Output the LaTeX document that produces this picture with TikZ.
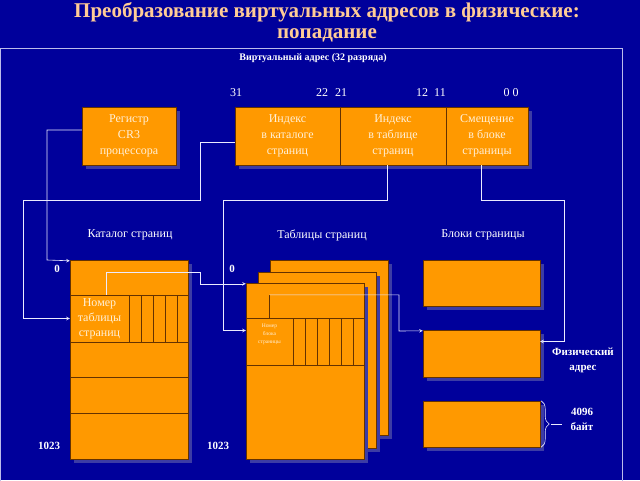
\documentclass[tikz,border=0pt]{standalone}
\usepackage{fontspec}
\setmainfont{Liberation Serif}
\usepackage{tikz}
\usetikzlibrary{shapes.geometric, arrows, shadows, decorations.pathreplacing, positioning}
\definecolor{bgblue}{RGB}{0,0,155}
\definecolor{boxorange}{RGB}{255,153,0}
\definecolor{boxline}{RGB}{100,50,0}
\definecolor{paletext}{RGB}{255,240,215}
\definecolor{titlecol}{RGB}{255,204,150}
\definecolor{shadowcol}{RGB}{60,60,165}
\definecolor{wirecol}{RGB}{235,235,255}
\tikzstyle{box} = [rectangle, draw=boxline, fill=boxorange, inner sep=0pt, text=paletext, align=center, font=\fontsize{12}{16}\selectfont, drop shadow={shadow xshift=4pt, shadow yshift=-4pt, fill=shadowcol, opacity=1}]
\tikzstyle{cell} = [rectangle, draw=boxline, inner sep=0pt, text=paletext, align=center, font=\fontsize{12}{15}\selectfont]
\tikzstyle{rowline} = [boxline]
\tikzstyle{arrow} = [wirecol, semithick, ->, >=stealth]
\tikzstyle{txt} = [text=white, inner sep=0pt, font=\fontsize{12}{14}\selectfont]
\tikzstyle{boldtxt} = [text=white, inner sep=0pt, align=center, font=\fontsize{11}{15}\selectfont\bfseries]

\begin{document}
\begin{tikzpicture}[x=1pt, y=-1pt]
\useasboundingbox (0,0) rectangle (640,480);
\fill[bgblue] (0,0) rectangle (640,480);
\node (title) [text=titlecol, align=center, font=\fontsize{21}{21}\selectfont\bfseries] at (327,22) {Преобразование виртуальных адресов в физические:\\попадание};
\draw[wirecol!80!bgblue, semithick] (0.5,48) rectangle (622,490);

% virtual address
\node (vaddr) [txt, font=\fontsize{10}{12}\selectfont\bfseries] at (313,58) {Виртуальный адрес (32 разряда)};
\node (b31) [txt] at (236,93) {31};
\node (b22) [txt] at (322,93) {22};
\node (b21) [txt] at (341,93) {21};
\node (b12) [txt] at (422,93) {12};
\node (b11) [txt] at (440,93) {11};
\node (b0) [txt] at (511,93) {0 0};

\node (cr3) [box, minimum width=94pt, minimum height=58pt] at (129,136) {Регистр\\CR3\\процессора};
\node (dir) [box, minimum width=105pt, minimum height=58pt] at (287.5,136) {Индекс\\в каталоге\\страниц};
\node (tbl) [box, minimum width=106pt, minimum height=58pt] at (393,136) {Индекс\\в таблице\\страниц};
\node (off) [box, minimum width=82pt, minimum height=58pt] at (487,136) {Смещение\\в блоке\\страницы};

% headings
\node (hcat) [txt] at (130,235) {Каталог страниц};
\node (htbl) [txt] at (322,235) {Таблицы страниц};
\node (hblk) [txt] at (483,235) {Блоки страницы};

% page directory
\node (cat) [box, minimum width=118pt, minimum height=199pt] at (129,359.5) {};
\foreach \y in {295,342,377,413}
  \draw[rowline] (70,\y) -- (188,\y);
\node (catEntry) [cell, minimum width=59pt, minimum height=47pt] at (99.5,318.5) {Номер\\таблицы\\страниц};
\foreach \x in {141,153,165,177}
  \draw[rowline] (\x,295) -- (\x,342);

% page tables
\node (back) [box, minimum width=118pt, minimum height=175pt] at (329,347.5) {};
\node (mid) [box, minimum width=118pt, minimum height=176pt] at (317,360) {};
\node (front) [box, minimum width=118pt, minimum height=176pt] at (305,371) {};
\foreach \y in {318,365}
  \draw[rowline] (246,\y) -- (364,\y);
\node (pgEntry) [cell, minimum width=47pt, minimum height=47pt] at (269.5,341.5) {};
\node (pgEntryTxt) [cell, draw=none, font=\fontsize{5.5}{8}\selectfont] at (269.5,334) {Номер\\блока\\страницы};
\foreach \x in {305,317,329,341,353}
  \draw[rowline] (\x,318) -- (\x,365);
\draw[rowline] (pgEntry.north) -- ++(0,-23);

% page blocks
\node (blk1) [box, minimum width=117pt, minimum height=46pt] at (481.5,283) {};
\node (blk2) [box, minimum width=117pt, minimum height=47pt] at (481.5,353.5) {};
\node (blk3) [box, minimum width=117pt, minimum height=46pt] at (481.5,424) {};

% index labels
\node (z1) [boldtxt] at (57,269) {0};
\node (z2) [boldtxt] at (232,269) {0};
\node (n1) [boldtxt] at (49,446) {1023};
\node (n2) [boldtxt] at (218,446) {1023};
\node (phys) [boldtxt] at (583,360) {Физический\\адрес};
\node (bytes) [boldtxt] at (582,419) {4096\\байт};

% wires
\draw[arrow] ([yshift=6pt]cr3.west) -| (47,260) -- ([yshift=-1pt]cat.north west);
\draw[arrow] ([yshift=-6pt]dir.west) -| (200,200) -| (23,318.5) -- (catEntry.west);
\draw[arrow] ([xshift=6.5pt]catEntry.north) |- (200,272) |- ([yshift=-1pt]front.north west);
\draw[arrow] ([xshift=-6pt]tbl.south) |- (223,200) |- ([yshift=11pt]pgEntry.west);
\draw[arrow] ([yshift=23pt]pgEntry.north) -| (399,331) -- ([yshift=-1pt]blk2.north west);
\draw[arrow] ([xshift=-6pt]off.south) |- (564,200) |- ([yshift=12pt]blk2.east);
\draw[wirecol, semithick, decorate, decoration={brace, amplitude=8pt}] ([xshift=1pt]blk3.north east) -- ([xshift=1pt]blk3.south east);
\draw[wirecol, semithick] (551,424) -- (562,424);
\end{tikzpicture}
\end{document}
